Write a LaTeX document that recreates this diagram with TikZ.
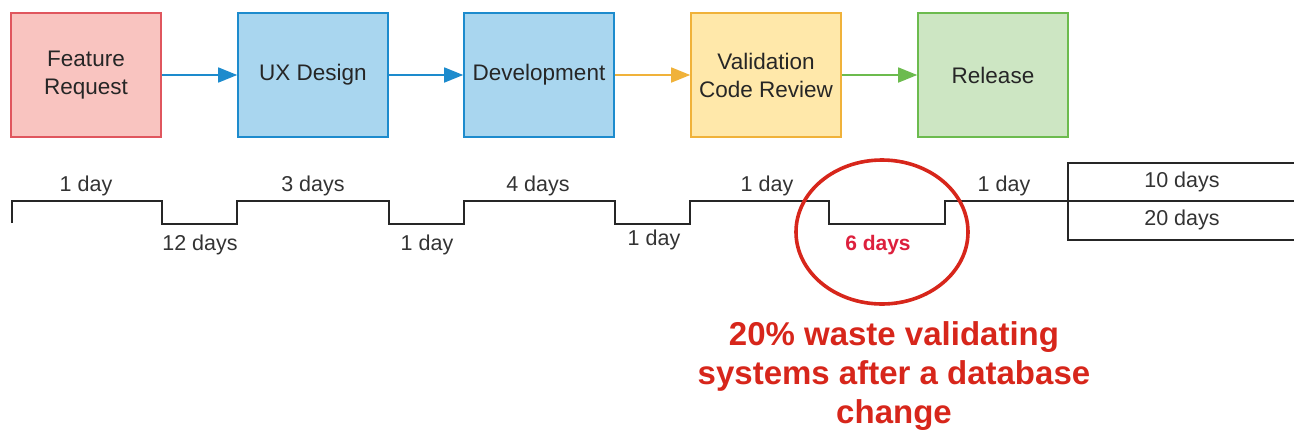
\documentclass[tikz,border=0pt]{standalone}
\usepackage{fontspec}
\setmainfont{Liberation Sans}
\usetikzlibrary{arrows.meta}

\definecolor{reqfill}{HTML}{F9C4C0}
\definecolor{reqline}{HTML}{E0565E}
\definecolor{uxfill}{HTML}{A9D6EF}
\definecolor{uxline}{HTML}{1D8BCD}
\definecolor{valfill}{HTML}{FFE8AA}
\definecolor{valline}{HTML}{F0B23A}
\definecolor{relfill}{HTML}{CDE6C3}
\definecolor{relline}{HTML}{6CBB4E}
\definecolor{alertred}{HTML}{D7261B}
\definecolor{labelgray}{HTML}{333333}

\tikzset{
  stage/.style={draw, line width=1.6pt, minimum width=150pt, minimum height=124pt,
    align=center, text=black!85, font=\fontsize{22.5}{28}\selectfont},
  flow/.style={line width=1.6pt, -{Triangle[length=19pt,width=15pt]}},
  span/.style={text=labelgray, font=\fontsize{21.5}{24}\selectfont, inner sep=0pt},
  track/.style={line width=1.4pt, black!85}
}

\begin{document}
\begin{tikzpicture}[x=1pt,y=-1pt]
  \useasboundingbox (0,0) rectangle (1294,432);

  % Stage boxes
  \node[stage, fill=reqfill, draw=reqline] (req) at (86,75) {Feature\\Request};
  \node[stage, fill=uxfill, draw=uxline] (ux) at (313,75) {UX Design};
  \node[stage, fill=uxfill, draw=uxline] (dev) at (539,75) {Development};
  \node[stage, fill=valfill, draw=valline] (val) at (766,75) {Validation\\Code Review};
  \node[stage, fill=relfill, draw=relline] (rel) at (993,75) {Release};

  % Flow arrows
  \draw[flow, uxline] (req) -- (ux);
  \draw[flow, uxline] (ux) -- (dev);
  \draw[flow, valline] (dev) -- (val);
  \draw[flow, relline] (val) -- (rel);

  % Timeline
  \draw[track] (12,223) -- (12,201) -- (162,201) -- (162,224) -- (237,224) -- (237,201)
    -- (389,201) -- (389,224) -- (464,224) -- (464,201) -- (615,201) -- (615,224)
    -- (690,224) -- (690,201) -- (829,201) -- (829,224) -- (945,224) -- (945,201)
    -- (1300,201);
  \draw[track] (1300,163) -- (1068,163) -- (1068,240) -- (1300,240);

  % Text Node
  \node[span] (t1) at (86,186) {1 day};
  \node[span] (w1) at (200,245) {12 days};
  \node[span] (t2) at (313,186) {3 days};
  \node[span] (w2) at (427,245) {1 day};
  \node[span] (t3) at (538,186) {4 days};
  \node[span] (w3) at (654,240) {1 day};
  \node[span] (t4) at (767,186) {1 day};
  \node[span, text=alertred!85!magenta, font=\bfseries\fontsize{21}{24}\selectfont] (w4) at (878,245) {6 days};
  \node[span] (t5) at (1004,186) {1 day};
  \node[span] (tot1) at (1182,182) {10 days};
  \node[span] (tot2) at (1182,220) {20 days};

  % Red ring
  \draw[alertred, line width=3.6pt] (882,232) ellipse [x radius=86, y radius=72];

  % Text Node
  \node[align=center, text=alertred, inner sep=0pt,
    font=\bfseries\fontsize{33}{39}\selectfont] (note) at (894,376)
    {20\% waste validating\\systems after a database\\change};
\end{tikzpicture}
\end{document}
